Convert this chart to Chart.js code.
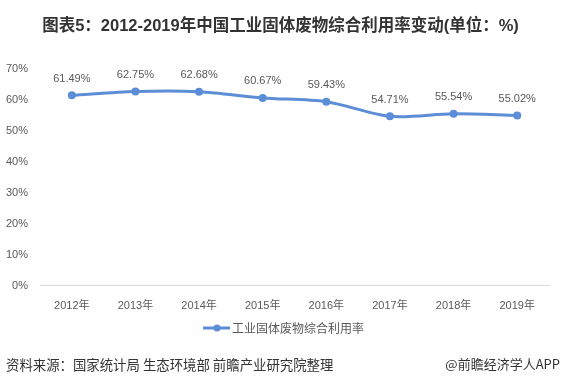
<!DOCTYPE html>
<html><head><meta charset="utf-8">
<script src="https://cdn.jsdelivr.net/npm/chart.js@4"></script>
<style>
html,body{margin:0;padding:0;background:#fff;}
#wrap{position:relative;width:561px;height:386px;overflow:hidden;font-family:"Liberation Sans","Noto Sans CJK SC",sans-serif;}
#title{position:absolute;left:0;width:561px;top:12px;text-align:center;font-size:16.5px;font-weight:bold;color:#333;}
#src{position:absolute;left:6px;top:354px;font-size:13.4px;color:#333;font-family:"Noto Sans CJK SC",sans-serif;}
#app{position:absolute;right:1px;top:354px;font-size:13px;color:#333;font-family:"Noto Sans CJK SC",sans-serif;}
canvas{position:absolute;left:0;top:0;}
</style></head>
<body><div id="wrap">
<canvas id="c" width="561" height="386"></canvas>
<div id="title">图表5：2012-2019年中国工业固体废物综合利用率变动(单位：%)</div>
<div id="src">资料来源：国家统计局 生态环境部 前瞻产业研究院整理</div>
<div id="app">@前瞻经济学人APP</div>
</div>
<script>
const categories = ["2012年","2013年","2014年","2015年","2016年","2017年","2018年","2019年"];
const seriesName = "工业固体废物综合利用率";
const values = [61.49, 62.75, 62.68, 60.67, 59.43, 54.71, 55.54, 55.02];
const yTicks = [0,10,20,30,40,50,60,70];
const color = "#5B8ED6";
const labelFont = '11px "Liberation Sans","Noto Sans CJK SC",sans-serif';

const labelPlugin = {
  id:'labels',
  afterDatasetsDraw(chart){
    const ctx = chart.ctx;
    const meta = chart.getDatasetMeta(0);
    ctx.save();
    ctx.font = labelFont; ctx.fillStyle = '#595959';
    ctx.textAlign='center'; ctx.textBaseline='bottom';
    meta.data.forEach((p,i)=>{
      ctx.fillText(values[i].toFixed(2)+'%', p.x, p.y-11);
    });
    // legend
    const ly = 328, lx = 203;
    ctx.strokeStyle = color; ctx.lineWidth = 3;
    ctx.beginPath(); ctx.moveTo(lx, ly); ctx.lineTo(lx+27, ly); ctx.stroke();
    ctx.fillStyle = color; ctx.beginPath(); ctx.arc(lx+14, ly, 3.5, 0, Math.PI*2); ctx.fill();
    ctx.fillStyle = '#595959'; ctx.textAlign='left'; ctx.textBaseline='middle';
    ctx.font = '12px "Noto Sans CJK SC",sans-serif';
    ctx.fillText(seriesName, lx+29, ly);
    ctx.restore();
  }
};

new Chart(document.getElementById('c'), {
  type:'line',
  data:{labels:categories, datasets:[{label:seriesName, data:values, borderColor:color, backgroundColor:color,
    borderWidth:3, pointRadius:4, pointBackgroundColor:color, pointBorderWidth:0, tension:0.3, fill:false}]},
  options:{
    responsive:false, animation:false, devicePixelRatio:1,
    layout:{padding:{top:69,left:4,right:12,bottom:67}},
    plugins:{legend:{display:false}, tooltip:{enabled:false}, title:{display:false}},
    scales:{
      x:{offset:true, grid:{display:false}, border:{display:true,color:'#d9d9d9',width:1},
         ticks:{color:'#595959',font:{size:11,family:'"Liberation Sans","Noto Sans CJK SC",sans-serif'},padding:6}},
      y:{min:0,max:70, afterBuildTicks(ax){ax.ticks = yTicks.map(v=>({value:v}));},
         afterFit(ax){ax.width = 36;},
         grid:{display:false, drawTicks:false}, border:{display:false},
         ticks:{color:'#595959',font:{size:11,family:'"Liberation Sans",sans-serif'},padding:12, callback:v=>v+'%'}}
    }
  },
  plugins:[labelPlugin]
});
</script>
</body></html>
